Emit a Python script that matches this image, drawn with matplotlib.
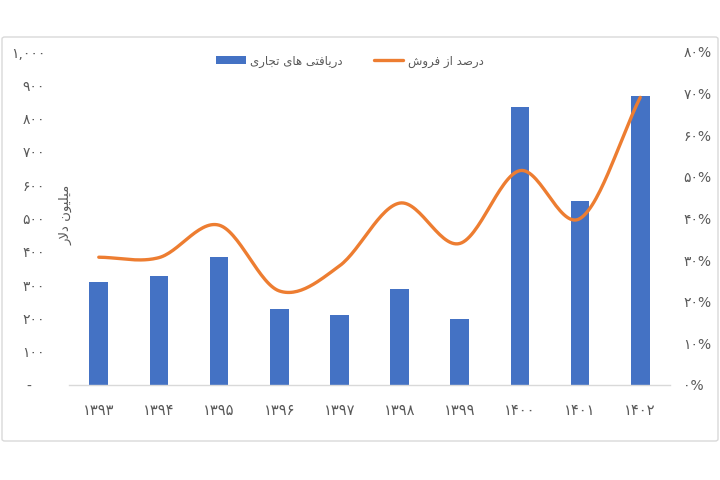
import numpy as np
import matplotlib
matplotlib.use("Agg")
import matplotlib.pyplot as plt
from matplotlib.patches import FancyBboxPatch
from matplotlib.ticker import FixedLocator, FixedFormatter

# ---- data ----
years = ["1393", "1394", "1395", "1396", "1397", "1398", "1399", "1400", "1401", "1402"]
receipts = [309, 326, 384, 229, 211, 289, 197, 836, 553, 869]      # million USD
pct_sales = [30.7, 30.6, 38.4, 22.6, 28.6, 43.7, 34.0, 51.5, 40.0, 69.1]  # percent

left_ticks = [0, 100, 200, 300, 400, 500, 600, 700, 800, 900, 1000]
right_ticks = [0, 10, 20, 30, 40, 50, 60, 70, 80]

# Persian text pre-shaped (visual order, presentation forms)
label_bars = "\uFEEF\uFEAD\uFE8E\uFEA0\uFE97 \uFEEF\uFE8E\uFEEB \uFEF0\uFE98\uFED3\uFE8E\uFEF3\uFEAD\uFEA9"  # دریافتی های تجاری
label_line = "\uFEB5\uFEED\uFEAE\uFED3 \uFEAF\uFE8D \uFEAA\uFEBB\uFEAD\uFEA9"  # درصد از فروش
ylabel_txt = "\uFEAD\uFEFB\uFEA9 \uFEE5\uFEEE\uFEF4\uFEE0\uFEF4\uFEE3"  # میلیون دلار

FA = str.maketrans("0123456789", "\u06F0\u06F1\u06F2\u06F3\u06F4\u06F5\u06F6\u06F7\u06F8\u06F9")
def fa(s):
    return s.translate(FA)

def left_fmt(v):
    if v == 0:
        return "-   "
    return fa(f"{v:,}")

plt.rcParams['font.family'] = ['DejaVu Sans']
TXT = "#595959"
BLUE = "#4472C4"
ORANGE = "#ED7D31"

fig = plt.figure(figsize=(7.2, 4.8), dpi=100)
fig.patch.set_facecolor("white")

# outer border
border = FancyBboxPatch((2/720, 1 - 441/480), 716/720, (441 - 37)/480,
                        boxstyle="round,pad=0,rounding_size=0.004",
                        transform=fig.transFigure, facecolor="none",
                        edgecolor="#D9D9D9", linewidth=1.0, zorder=-1)
fig.patches.append(border)

ax = fig.add_axes([68.7/720, 1 - 385/480, (670.3 - 68.7)/720, (385 - 52)/480])
ax.set_facecolor("none")
x = np.arange(len(years))
ax.bar(x, receipts, width=0.31, color=BLUE, zorder=2, label=label_bars)
ax.set_xlim(-0.5, len(years) - 0.5)
ax.set_ylim(0, 1000)
ax.set_xticks(x)
ax.set_xticklabels([fa(y) for y in years], color=TXT, fontsize=10.5)
ax.yaxis.set_major_locator(FixedLocator(left_ticks))
ax.yaxis.set_major_formatter(FixedFormatter([left_fmt(v) for v in left_ticks]))
ax.tick_params(axis='y', length=0, pad=17, labelsize=10, labelcolor=TXT)
ax.tick_params(axis='x', length=0, pad=13)
for s in ["top", "right", "left"]:
    ax.spines[s].set_visible(False)
ax.spines["bottom"].set_color("#D9D9D9")
ax.spines["bottom"].set_linewidth(1.0)

ax2 = ax.twinx()
ax2.set_ylim(0, 80)
ax2.yaxis.set_major_locator(FixedLocator(right_ticks))
ax2.yaxis.set_major_formatter(FixedFormatter([fa(str(v)) + "%" for v in right_ticks]))
ax2.tick_params(axis='y', length=0, pad=9.5, labelsize=10, labelcolor=TXT)
for s in ["top", "right", "left", "bottom"]:
    ax2.spines[s].set_visible(False)

# smooth line (Catmull-Rom through the data points, as Excel's smoothed line)
def catmull(xs, ys, n=30):
    xs = np.asarray(xs, float); ys = np.asarray(ys, float)
    px = np.concatenate([[2*xs[0]-xs[1]], xs, [2*xs[-1]-xs[-2]]])
    py = np.concatenate([[2*ys[0]-ys[1]], ys, [2*ys[-1]-ys[-2]]])
    outx, outy = [], []
    for i in range(1, len(px) - 2):
        t = np.linspace(0, 1, n, endpoint=False)
        for arr, out in ((px, outx), (py, outy)):
            p0, p1, p2, p3 = arr[i-1], arr[i], arr[i+1], arr[i+2]
            out.extend(0.5*((2*p1) + (-p0+p2)*t + (2*p0-5*p1+4*p2-p3)*t**2 + (-p0+3*p1-3*p2+p3)*t**3))
    outx.append(xs[-1]); outy.append(ys[-1])
    return np.array(outx), np.array(outy)

sx, sy = catmull(x, pct_sales)
ax2.plot(sx, sy, color=ORANGE, linewidth=2.4, solid_capstyle='round', zorder=3, label=label_line)

# legend
h1, l1 = ax.get_legend_handles_labels()
h2, l2 = ax2.get_legend_handles_labels()
fig.legend(h1 + h2, l1 + l2, loc="center", bbox_to_anchor=(350/720, 1 - 61/480),
           ncol=2, frameon=False, fontsize=8.5, labelcolor=TXT,
           handlelength=2.5, handleheight=0.7, columnspacing=2.6, handletextpad=0.4)

fig.text(66/720, 1 - 215/480, ylabel_txt, rotation=90, ha="center", va="center",
         fontsize=9.5, color=TXT)

fig.savefig("out.png", dpi=100)
